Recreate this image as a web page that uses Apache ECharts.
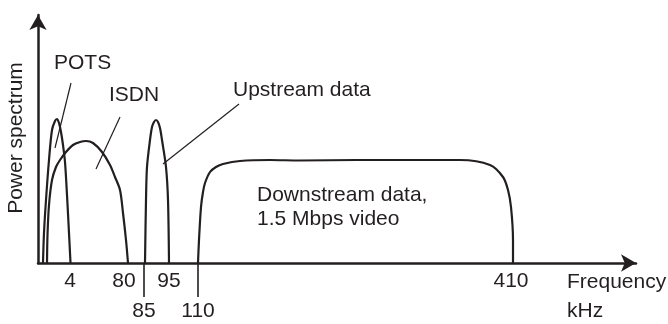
<!DOCTYPE html>
<html>
<head>
<meta charset="utf-8">
<script src="https://cdn.jsdelivr.net/npm/echarts@6/dist/echarts.min.js"></script>
<style>
html,body{margin:0;padding:0;background:#fff;}
#chart{width:668px;height:324px;}
</style>
</head>
<body>
<div id="chart"></div>
<script>
// 横轴是示意刻度（非线性），单位为距原点的位置
var potsX = [5, 6, 8, 11, 14, 17, 19, 21, 23, 25, 27, 29, 31, 32.5];
var potsY = [0, 30, 63, 103, 133, 142, 144, 140, 131, 118, 101, 68, 30, 0];
var isdnX = [9, 9.5, 11, 14, 18, 22, 28, 35, 42, 48, 55, 64, 72, 77, 82, 85, 88, 90];
var isdnY = [0, 28, 58, 83, 96, 103, 111, 118, 121, 122, 120, 111, 98, 86, 73, 50, 23, 0];
var upX = [107, 108, 109, 112, 114, 116, 118, 120, 122, 124, 128, 130, 131];
var upY = [0, 63, 96, 123, 136, 141, 143, 141, 135, 123, 96, 63, 0];
var downX = [160, 161, 163, 165, 167, 172, 178, 185, 202, 232, 262, 319, 382, 422, 452, 465, 470, 473, 475, 475];
var downY = [0, 23, 56, 71, 80, 91, 96, 99, 102, 103, 102.5, 103, 103, 103, 98, 86, 73, 56, 23, 0];

// 刻度
var tickPos = [32, 86, 131, 473];
var tickText = ['4', '80', '95', '410'];
var tickPos2 = [106, 160];
var tickText2 = ['85', '110'];

// 引线
var potsLead = [[33, 180], [17, 115]];
var isdnLead = [[82, 146], [58, 94]];
var upLead = [[201, 159], [125, 99]];

function zip(xs, ys){
  var out = [];
  for(var i=0;i<xs.length;i++){ out.push([xs[i], ys[i]]); }
  return out;
}
function labelOf(pos, txt){
  return function(v){
    for(var i=0;i<pos.length;i++){ if(Math.abs(pos[i]-v)<0.01) return txt[i]; }
    return '';
  };
}

var ink = '#231f20';
var font = 'Liberation Sans, Arial, sans-serif';

(function(){
  var myChart = echarts.init(document.getElementById('chart'));
  function curve(d){
    return {
      type: 'line', data: d, smooth: 0.3, showSymbol: false, clip: false,
      lineStyle: { color: ink, width: 2.2 }, silent: true
    };
  }
  function lead(d){
    return {
      type: 'line', data: d, showSymbol: false, clip: false,
      lineStyle: { color: ink, width: 1.2 }, silent: true
    };
  }
  var option = {
    animation: false,
    grid: { left: 38, right: 32, top: 15, bottom: 61, outerBoundsMode: 'none', containLabel: false },
    xAxis: [
      {
        type: 'value', min: 0, max: 598,
        splitLine: { show: false },
        axisLine: { show: true, lineStyle: { color: ink, width: 2.5 }, symbol: ['none', 'arrow'], symbolSize: [13, 15] },
        axisTick: { show: false },
        axisLabel: {
          customValues: tickPos, formatter: labelOf(tickPos, tickText),
          color: ink, fontSize: 21, fontFamily: font, margin: 8,
          showMinLabel: true, showMaxLabel: true
        }
      },
      {
        type: 'value', min: 0, max: 598, position: 'bottom',
        splitLine: { show: false },
        axisLine: { show: false },
        axisTick: { show: true, customValues: tickPos2, length: 34, lineStyle: { color: ink, width: 1.6 } },
        axisLabel: {
          customValues: tickPos2, formatter: labelOf(tickPos2, tickText2),
          color: ink, fontSize: 21, fontFamily: font, margin: 38
        }
      }
    ],
    yAxis: {
      type: 'value', min: 0, max: 248,
      splitLine: { show: false },
      axisTick: { show: false },
      axisLabel: { show: false },
      axisLine: { show: true, lineStyle: { color: ink, width: 2.5 }, symbol: ['none', 'arrow'], symbolSize: [13, 15] }
    },
    graphic: [
      { type: 'text', x: 16, y: 138, rotation: Math.PI/2,
        style: { text: 'Power spectrum', fill: ink, font: '21px ' + font, align: 'center', verticalAlign: 'middle' } },
      { type: 'text', x: 54, y: 63, style: { text: 'POTS', fill: ink, font: '21px ' + font, verticalAlign: 'middle' } },
      { type: 'text', x: 109, y: 95.5, style: { text: 'ISDN', fill: ink, font: '21px ' + font, verticalAlign: 'middle' } },
      { type: 'text', x: 233, y: 90.5, style: { text: 'Upstream data', fill: ink, font: '21px ' + font, verticalAlign: 'middle' } },
      { type: 'text', x: 257, y: 195.5, style: { text: 'Downstream data,', fill: ink, font: '21px ' + font, verticalAlign: 'middle' } },
      { type: 'text', x: 257, y: 219.5, style: { text: '1.5 Mbps video', fill: ink, font: '21px ' + font, verticalAlign: 'middle' } },
      { type: 'text', x: 567, y: 282.5, style: { text: 'Frequency', fill: ink, font: '21px ' + font, verticalAlign: 'middle' } },
      { type: 'text', x: 567, y: 311, style: { text: 'kHz', fill: ink, font: '21px ' + font, verticalAlign: 'middle' } }
    ],
    series: [
      curve(zip(potsX, potsY)),
      curve(zip(isdnX, isdnY)),
      curve(zip(upX, upY)),
      curve(zip(downX, downY)),
      lead(potsLead),
      lead(isdnLead),
      lead(upLead)
    ]
  };
  myChart.setOption(option);
  window.addEventListener('resize', function(){ myChart.resize(); });
})();
</script>
</body>
</html>
